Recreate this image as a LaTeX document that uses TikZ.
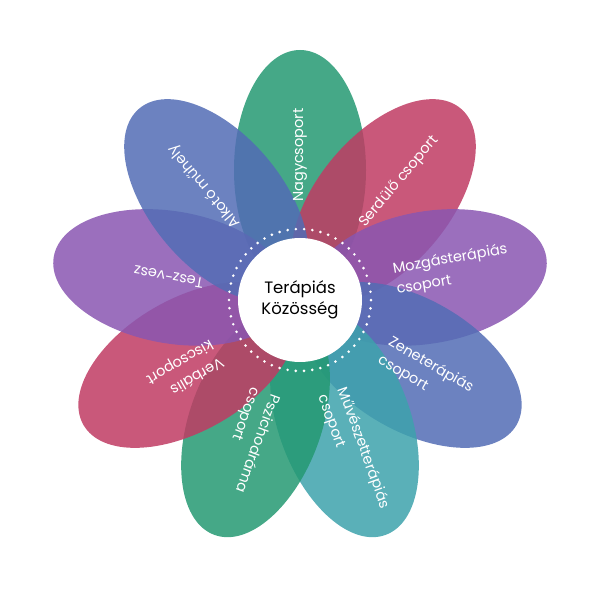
\documentclass[tikz,border=0pt]{standalone}
\usepackage{fontspec}
\setmainfont{Poppins}
\usetikzlibrary{calc}
\definecolor{pgreen}{RGB}{36,153,114}
\definecolor{pred}{RGB}{192,59,99}
\definecolor{ppurple}{RGB}{137,86,177}
\definecolor{pblue}{RGB}{82,108,181}
\definecolor{pteal}{RGB}{61,162,172}
\tikzset{
  petal/.style={fill opacity=0.85},
  lbl/.style={anchor=west, text=white, inner sep=0pt, align=left, font=\fontsize{14.5}{21}\selectfont},
  ctr/.style={circle, fill=white, minimum size=124pt, inner sep=0pt, align=center, text=black, font=\fontsize{16.5}{21}\selectfont},
  dotring/.style={white, line width=2.9pt, dash pattern=on 0pt off 8.26pt, line cap=round}
}
\begin{document}
\begin{tikzpicture}[x=1pt,y=1pt]
\useasboundingbox (0,0) rectangle (600,600);
\coordinate (c) at (300,300);
% petals, in stacking order
\foreach \ang/\col in {90/pgreen, 50/pred, 10/ppurple, -30/pblue, -70/pteal, -110/pgreen, -150/pred, 170/ppurple, 130/pblue}{
  \fill[petal, fill=\col, shift={(300,300)}, rotate=\ang] (130,0) ellipse [x radius=120, y radius=66];
}
% centre
\node[ctr] (center) at (c) {Terápiás\\Közösség};
\draw[dotring] (c) circle (71);
% labels
\node[lbl, rotate=90] (nagy) at ($(c)+(90:98)$) {Nagycsoport};
\node[lbl, rotate=50] (serd) at ($(c)+(50:97)$) {Serdülő csoport};
\node[lbl, rotate=10] (mozg) at ($(c)+(12:97)$) {Mozgásterápiás\\csoport};
\node[lbl, rotate=-30] (zene) at ($(c)+(-31:98)$) {Zeneterápiás\\csoport};
\node[lbl, rotate=-70] (muv) at ($(c)+(-71:97)$) {Művészetterápiás\\csoport};
\node[lbl, rotate=-110] (pszi) at ($(c)+(-111:98)$) {Pszichodráma\\csoport};
\node[lbl, rotate=-150] (verb) at ($(c)+(-148:98)$) {Verbális\\kiscsoport};
\node[lbl, rotate=170] (tesz) at ($(c)+(170:98)$) {Tesz-vesz};
\node[lbl, rotate=130] (alk) at ($(c)+(130:97)$) {Alkotó műhely};
\end{tikzpicture}
\end{document}
